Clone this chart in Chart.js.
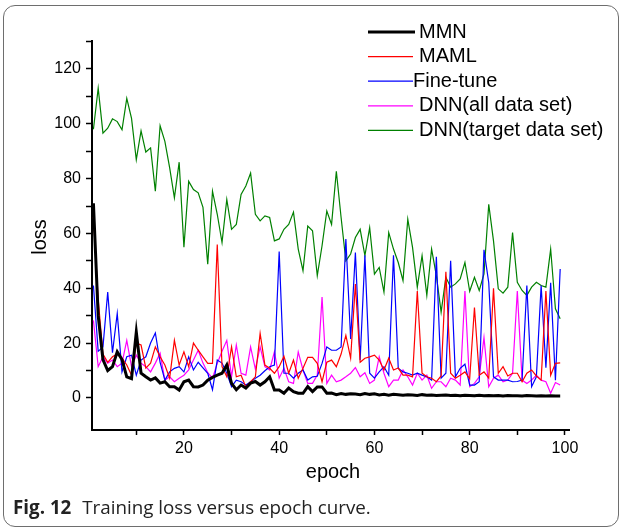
<!DOCTYPE html>
<html>
<head>
<meta charset="utf-8">
<script src="https://cdn.jsdelivr.net/npm/chart.js@4"></script>
<style>
  html, body { margin: 0; padding: 0; background: #fff; }
  #wrap { position: relative; width: 624px; height: 531px; overflow: hidden; }
  #frame { position: absolute; left: 3px; top: 5px; width: 614px; height: 520px;
           border: 1.5px solid #6e6e6e; border-radius: 12px; }
  #caption { position: absolute; left: 13px; top: 494px; font: 18.8px "Open Sans", sans-serif; color: #222; white-space: nowrap; }
  #caption b { font-weight: 700; margin-right: 6px; }
  canvas { position: absolute; left: 0; top: 0; }
</style>
</head>
<body>
<div id="wrap">
  <div id="frame"></div>
  <canvas id="c" width="624" height="531"></canvas>
  <div id="caption"><b>Fig. 12</b> Training loss versus epoch curve.</div>
</div>
<script>
const epochs = Array.from({length: 99}, (_, i) => i + 1);

const mmn = [71, 30, 14, 10, 11.4, 16.8, 14, 7.7, 7, 24,
  9, 7.7, 6.5, 7.3, 5.4, 5.9, 4.1, 4.1, 2.9, 5.9,
  6.5, 4.1, 4, 4.7, 6.5, 7.5, 8.3, 9, 12, 5.3,
  3, 4.7, 3.6, 5.4, 6, 4.7, 5.9, 7.7, 2.9, 2.9,
  1.7, 3.6, 2.3, 1.7, 1.7, 4.1, 2.3, 4, 4, 1.7,
  1.8, 1.2, 1.6, 1.3, 1.5, 1.4, 1.2, 1.6, 1.3, 1.5,
  1.1, 1.3, 1.0, 1.3, 1.2, 1.0, 1.2, 1.1, 0.9, 1.2,
  1.0, 1.1, 0.9, 1.0, 1.1, 0.9, 1.0, 0.8, 1.0, 0.9,
  0.8, 1.0, 0.8, 0.9, 0.8, 0.9, 0.7, 0.9, 0.8, 0.8,
  0.7, 0.9, 0.8, 0.7, 0.8, 0.7, 0.8, 0.7, 0.7];

const maml = [66, 36, 16, 13, 15, 16, 14.5, 12, 8.3, 20,
  19.3, 10.9, 12.7, 18.6, 15, 12, 7.2, 21, 12, 16.8,
  11.4, 20, 17.4, 15, 12.6, 12.6, 56, 11.4, 7.7, 18.6,
  7.7, 8.3, 4, 5.9, 7.7, 23.5, 12, 10.8, 9, 11.4,
  15.2, 9, 13.8, 7.2, 10.8, 14.8, 14.8, 12.6, 5.9, 13,
  13.8, 11.4, 16, 22.8, 14.5, 41.5, 13, 14.5, 15, 15.6,
  13.8, 10.2, 14.5, 10.2, 10.9, 8.3, 8.3, 7.7, 39, 9,
  7.7, 7.2, 5.9, 8, 46, 9, 7.2, 8.3, 9.5, 7,
  33, 8.3, 9.5, 7.2, 40, 9, 11.4, 8, 9, 9,
  5.9, 9, 10.2, 8, 6.5, 39, 8.3, 12.6, 12.8];

const fineTune = [41, 17, 18.6, 38.6, 16.5, 30.8, 9.5, 15, 15.6, 8.3,
  13.8, 15, 20, 23.7, 13, 6.5, 9.5, 10.8, 11.4, 9.5,
  15, 10.2, 13, 11, 9, 3, 13.8, 12.7, 9, 4.1,
  6.5, 5.9, 4.7, 5.9, 7.2, 8.3, 9.9, 11.4, 12, 53.4,
  9, 9, 7.2, 9, 10.2, 6.5, 7.7, 7.9, 12.6, 18.6,
  17.4, 17.4, 18.6, 58, 21.5, 53, 13.8, 52, 9, 7.2,
  9.5, 11.4, 8.3, 52, 10.8, 9.5, 9, 8.3, 9, 8.3,
  7.7, 6.5, 51.5, 7.2, 9, 50, 7.7, 10.8, 12.3, 4.7,
  4.7, 5.9, 54, 42, 7.7, 6.5, 6.5, 6.5, 5.9, 6,
  6.5, 41, 4.1, 7.7, 41, 11, 42, 6.5, 47];

const dnnAll = [28.3, 11.4, 15, 12.7, 13.8, 11.4, 12.7, 21, 11.4, 15.6,
  12.7, 11.4, 9.5, 12.7, 16.3, 6.5, 7.7, 5.9, 7.2, 8.3,
  10.2, 13.8, 17.4, 12.7, 9.2, 7.2, 12.6, 17, 21, 7.7,
  19.3, 9, 8.3, 18.6, 10.5, 18.6, 11.4, 10.2, 16.8, 7.2,
  10.8, 5.9, 5.3, 16.8, 10.2, 5.3, 5.3, 8.3, 36.8, 5.3,
  8.3, 5.9, 6.5, 7.7, 9, 11.1, 7.7, 9.2, 5.3, 6.5,
  15, 9, 4.1, 6.5, 6.5, 10.2, 7.7, 4.7, 9, 6.5,
  8.3, 3.5, 5.9, 5.9, 4.1, 7.2, 6.5, 4.7, 39, 4.1,
  5.3, 7.7, 22, 4.1, 7.2, 8.3, 5.9, 6.5, 9, 39,
  6.5, 5.3, 6.5, 8.3, 6.5, 5.9, 1.7, 5.6, 4.7];

const dnnTarget = [98, 113, 96.6, 98.4, 101.8, 100.8, 97.8, 109.3, 102, 86.9,
  97.4, 89.7, 91.2, 75.4, 99.3, 93.6, 84, 73, 86, 55,
  79, 76, 74.8, 69.5, 48.8, 75.4, 67, 56.7, 72.4, 61.5,
  63.3, 74.2, 77.3, 82, 67, 64.6, 66.4, 65.8, 57.3, 58,
  61.5, 63.3, 67.8, 54.3, 46.4, 62.7, 61, 44.6, 55.5, 68.2,
  63.3, 82.7, 65.8, 50, 52.5, 58.5, 61.5, 51.9, 62.1, 45.2,
  47.6, 38.6, 60.3, 54.3, 49.4, 42.8, 65.2, 54.9, 40.4, 51.9,
  37.4, 54.3, 44.6, 31.3, 44, 40.4, 41.6, 43.4, 49.4, 38.9,
  44, 39.2, 45.2, 70.6, 57.3, 39.8, 38.2, 40.4, 60.3, 42.2,
  39.2, 37.4, 40.4, 42.2, 41, 40.4, 54.3, 32.5, 28.9];

const seriesNames = ['MMN', 'MAML', 'Fine-tune', 'DNN(all data set)', 'DNN(target data set)'];
const seriesColors = ['#000000', '#ff0000', '#0000ff', '#ff00ff', '#008000'];

const FONT = '"Liberation Sans", Arial, sans-serif';

function pts(vals) { return vals.map((v, i) => ({x: epochs[i], y: v})); }

// legend + axis titles drawn by hand to match the Origin layout
const decor = {
  id: 'decor',
  afterDraw(chart) {
    const ctx = chart.ctx;
    ctx.save();
    ctx.fillStyle = '#000';
    ctx.textBaseline = 'middle';
    ctx.font = '20px ' + FONT;
    chart.data.datasets.forEach((ds, i) => {
      const y = 32 + i * 24.6;
      ctx.strokeStyle = ds.borderColor;
      ctx.lineWidth = i === 0 ? 3 : 1.2;
      ctx.beginPath();
      ctx.moveTo(368, y);
      ctx.lineTo(i === 0 ? 415 : 413, y);
      ctx.stroke();
      ctx.fillText(ds.label, i === 2 ? 413 : 419, y);
    });
    ctx.font = '20px ' + FONT;
    ctx.textAlign = 'center';
    ctx.fillText('epoch', 333, 472);
    ctx.translate(40, 237);
    ctx.rotate(-Math.PI / 2);
    ctx.fillText('loss', 0, 0);
    ctx.restore();
  }
};

const series = [mmn, maml, fineTune, dnnAll, dnnTarget];

new Chart(document.getElementById('c'), {
  type: 'line',
  data: {
    datasets: series.map((s, i) => ({
      label: seriesNames[i],
      data: pts(s),
      borderColor: seriesColors[i],
      borderWidth: i === 0 ? 3 : 1.2,
      pointRadius: 0,
      tension: 0,
      fill: false
    }))
  },
  options: {
    responsive: false,
    animation: false,
    devicePixelRatio: 1,
    layout: { padding: { left: 0, top: 41, right: 55, bottom: 0 } },
    plugins: { legend: { display: false }, tooltip: { enabled: false } },
    scales: {
      x: {
        type: 'linear',
        min: 0.7, max: 100.85,
        afterFit: s => { s.height = 101; },
        afterBuildTicks: s => { s.ticks = s.ticks.filter(t => t.value >= 10 && t.value <= 100); },
        grid: { drawOnChartArea: false, drawTicks: true, tickLength: 5, tickColor: '#000', tickWidth: 1.5 },
        border: { display: true, color: '#000', width: 2 },
        ticks: {
          stepSize: 10, includeBounds: false, autoSkip: false, maxRotation: 0, padding: 4,
          color: '#000', font: { family: FONT, size: 16 },
          callback: v => (v % 20 === 0 ? v : '')
        }
      },
      y: {
        min: -11.7, max: 130.2,
        afterFit: s => { s.width = 92; },
        afterBuildTicks: s => { s.ticks = s.ticks.filter(t => t.value >= 0 && t.value <= 130); },
        grid: { drawOnChartArea: false, drawTicks: true, tickLength: 6, tickColor: '#000', tickWidth: 1.5 },
        border: { display: true, color: '#000', width: 2 },
        ticks: {
          stepSize: 10, includeBounds: false, autoSkip: false, padding: 5,
          color: '#000', font: { family: FONT, size: 16 },
          callback: v => (v % 20 === 0 ? v : '')
        }
      }
    }
  },
  plugins: [decor]
});
</script>
</body>
</html>
